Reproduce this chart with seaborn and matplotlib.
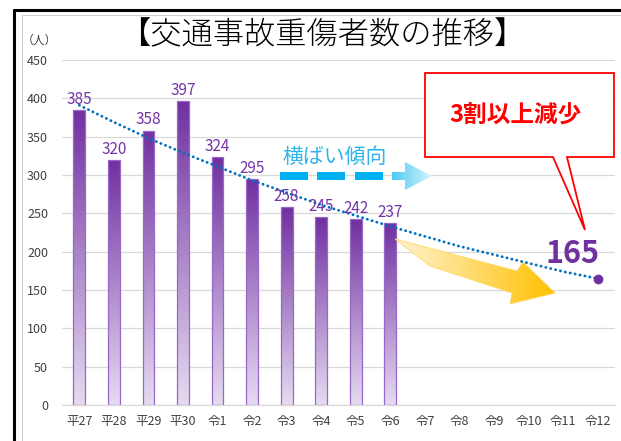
import numpy as np
import pandas as pd
import matplotlib
matplotlib.use("Agg")
import matplotlib.pyplot as plt
import seaborn as sns
from matplotlib.patches import Polygon, Rectangle
from matplotlib.colors import LinearSegmentedColormap
from matplotlib.lines import Line2D

# ---- data ----
categories = ["平27", "平28", "平29", "平30", "令1", "令2", "令3", "令4",
              "令5", "令6", "令7", "令8", "令9", "令10", "令11", "令12"]
injured = [385, 320, 358, 397, 324, 295, 258, 245, 242, 237]
trend = [391, 369, 348, 329, 311, 293, 277, 261, 247, 233, 220, 207, 196, 185, 174, 165]
target_value = 165
yticks = [0, 50, 100, 150, 200, 250, 300, 350, 400, 450]
title = "【交通事故重傷者数の推移】"
unit_label = "（人）"
flat_label = "横ばい傾向"
callout_label = "3割以上減少"

sns.set_theme(style="white")
plt.rcParams['font.family'] = ['Noto Sans CJK JP', 'DejaVu Sans']

W, H = 621, 441
fig = plt.figure(figsize=(W / 100, H / 100), dpi=100)
fig.patch.set_facecolor("white")
ax = fig.add_axes([62 / W, 1 - 405 / H, (615 - 62) / W, 345 / H])

df = pd.DataFrame({"year": categories[:len(injured)], "count": injured})
sns.barplot(data=df, x="year", y="count", order=categories, width=0.34,
            color="#7030A0", edgecolor="#9966CC", linewidth=0.9, ax=ax)

ax.set_xlim(-0.5, len(categories) - 0.5)
ax.set_ylim(0, 450)

# gradient fill of bars
cmap = LinearSegmentedColormap.from_list("pg", ["#E6DBF1", "#7030A0"])
grad = np.linspace(0, 1, 256).reshape(-1, 1)
for p in list(ax.patches):
    h = p.get_height()
    if not np.isfinite(h) or h <= 0:
        continue
    x0, w = p.get_x(), p.get_width()
    im = ax.imshow(grad, extent=[x0, x0 + w, 0, h], origin="lower", cmap=cmap,
                   aspect="auto", zorder=1.5, interpolation="bicubic")
    im.set_clip_path(p)
    p.set_facecolor("none")
    p.set_zorder(2)
ax.set_xlim(-0.5, len(categories) - 0.5)
ax.set_ylim(0, 450)

# data labels
for i, v in enumerate(injured):
    ax.annotate(str(v), (i, v), xytext=(0, 1.5), textcoords="offset points",
                ha="center", va="bottom", color="#7434A8", fontsize=11, zorder=5)

# trend line
ax.plot(range(len(trend)), trend, color="#0070C0", lw=2.0,
        linestyle=(0, (0.1, 1.7)), dash_capstyle="round", zorder=4)
ax.plot([len(categories) - 1], [target_value], "o", color="#7030A0", ms=6, zorder=5)
ax.annotate(str(target_value), (len(categories) - 1, target_value), xytext=(1, 6),
            textcoords="offset points", ha="right", va="bottom", color="#7030A0",
            fontsize=22, fontweight="bold", zorder=6)

# axes style
ax.set_yticks(yticks)
ax.set_xlabel("")
ax.set_ylabel("")
ax.grid(axis="y", color="#D9D9D9", lw=0.9)
ax.set_axisbelow(True)
for s in ["top", "right", "left"]:
    ax.spines[s].set_visible(False)
ax.spines["bottom"].set_color("#D9D9D9")
ax.spines["bottom"].set_linewidth(0.9)
ax.tick_params(axis="both", length=0, labelsize=9, colors="#404040")
ax.tick_params(axis="y", pad=10)
ax.tick_params(axis="x", pad=7)


def P(px, py):
    """image pixel (top-left origin) -> data coords"""
    return tuple(ax.transData.inverted().transform((px, H - py)))


def gradient_fill(poly_px, c0, c1, zorder):
    pts = [P(*q) for q in poly_px]
    poly = Polygon(pts, closed=True, facecolor="none", edgecolor="none", zorder=zorder)
    ax.add_patch(poly)
    xs = [q[0] for q in pts]
    ys = [q[1] for q in pts]
    cm = LinearSegmentedColormap.from_list("g", [c0, c1])
    g = np.linspace(0, 1, 256).reshape(1, -1)
    im = ax.imshow(g, extent=[min(xs), max(xs), min(ys), max(ys)], cmap=cm,
                   aspect="auto", zorder=zorder, interpolation="bicubic")
    im.set_clip_path(poly)
    im.set_clip_on(True)
    return poly

# cyan flat arrow
for a, b in [(280, 308), (317, 345), (355, 383)]:
    x0, y0 = P(a, 180)
    x1, y1 = P(b, 172)
    ax.add_patch(Rectangle((x0, y0), x1 - x0, y1 - y0, facecolor="#00B0F0",
                           edgecolor="none", zorder=3))
gradient_fill([(392, 172), (405, 172), (405, 162), (432, 176), (405, 190),
               (405, 180), (392, 180)], "#4FC8F3", "#D6F6FF", 3)
ax.text(*P(335, 157), flat_label, ha="center", va="center", color="#2EB4EA",
        fontsize=15, zorder=5)

# orange down arrow
arrow_px = [(395, 239), (517, 271), (523, 262), (555, 293), (510, 304), (512, 293), (430, 266)]
gradient_fill(arrow_px, "#FFF4D2", "#FFC000", 3)
ax.add_patch(Polygon([P(*q) for q in arrow_px], closed=True, facecolor="none",
                     edgecolor="#FFD966", lw=0.6, zorder=3))
ax.set_xlim(-0.5, len(categories) - 0.5)
ax.set_ylim(0, 450)

# red callout
call = [(425, 73), (614, 73), (614, 157), (567, 157), (585, 230), (553, 157), (425, 157)]
ax.add_patch(Polygon([P(*q) for q in call], closed=True, facecolor="white",
                     edgecolor="#FF0000", lw=1.3, zorder=6, clip_on=False))
ax.text(*P(515, 116), callout_label, ha="center", va="center", color="#FF0000",
        fontsize=17, fontweight="bold", zorder=7, clip_on=False)

# titles
fig.text(322 / W, 1 - 35 / H, title, ha="center", va="center", fontsize=22.5,
         fontweight="light", color="#000000")
fig.text(39 / W, 1 - 40 / H, unit_label, ha="center", va="center", fontsize=8.5, color="#404040")

# frame lines
fig.add_artist(Line2D([22 / W, 22 / W], [0, 1 - 15 / H], transform=fig.transFigure,
                      color="#D0D0D0", lw=0.8))
fig.add_artist(Line2D([22 / W, 1], [1 - 15 / H, 1 - 15 / H], transform=fig.transFigure,
                      color="#D0D0D0", lw=0.8))
fig.add_artist(Line2D([13.5 / W, 13.5 / W], [0, 1 - 10 / H], transform=fig.transFigure,
                      color="black", lw=2.2))
fig.add_artist(Line2D([13.5 / W, 1], [1 - 10 / H, 1 - 10 / H], transform=fig.transFigure,
                      color="black", lw=2.2))

fig.savefig("out.png", dpi=100)
